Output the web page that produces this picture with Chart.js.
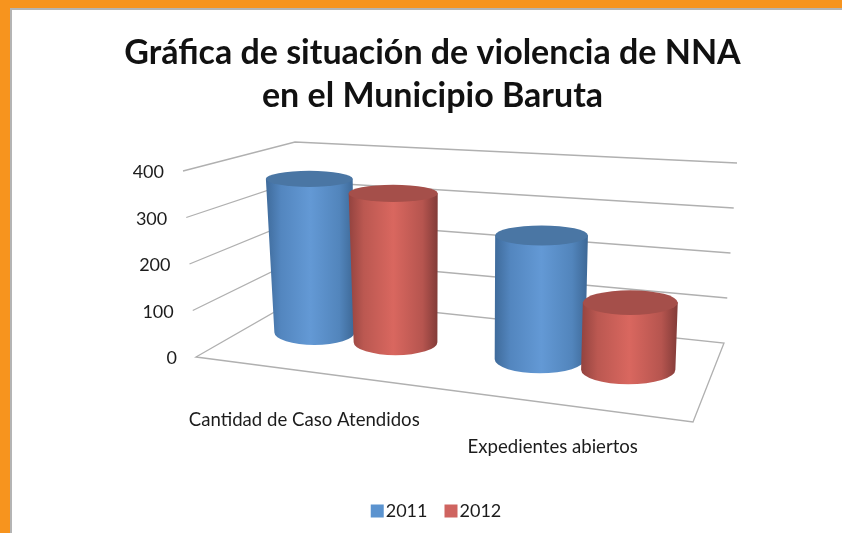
<!DOCTYPE html>
<html lang="es">
<head>
  <meta charset="UTF-8">
  <title>Gráfica de situación de violencia de NNA</title>
  <script src="https://cdn.jsdelivr.net/npm/chart.js"></script>
  <style>
    html, body { margin: 0; padding: 0; width: 842px; height: 533px; overflow: hidden; background: #f7941e; }
    #paper { position: absolute; left: 10px; top: 8px; width: 832px; height: 525px; box-sizing: border-box; background: #fff; border-left: 2px solid #b4b4b4; border-top: 2px solid #b4b4b4; }
    #chart { position: absolute; left: 0; top: 0; }
  </style>
</head>
<body>
  <div id="paper"></div>
  <canvas id="chart" width="842" height="533"></canvas>

  <script>
    const categories = ['Cantidad de Caso Atendidos', 'Expedientes abiertos'];
    const seriesNames = ['2011', '2012'];
    const seriesColors = ['#5b93cf', '#cf6460'];
    const values2011 = [355, 267];
    const values2012 = [335, 141];
    const yTicks = [0, 100, 200, 300, 400];

    const FONT = 'Lato, sans-serif';
    const TEXT = '#1c1c1c';

    // box corners in page px: floor and wall tops (f = front, b = back)
    const floor = { fl: [196, 357], fr: [693, 422], bl: [299, 298], br: [724, 343] };
    const roof = { fl: [183, 171], fr: [697, 210], bl: [295, 142], br: [737, 163] };
    const BAR_DEPTH = 0.54;  // bars stand in the middle of the floor
    const LABEL_DX = -16;
    const LABEL_DY = [47, 41];
    const LEGEND_BOX_SHIFT = 7;  // original legend keeps its swatch closer to the text

    function bilinear(q, u, v) {
      return [0, 1].map(i =>
        (1 - v) * (q.fl[i] + u * (q.fr[i] - q.fl[i])) + v * (q.bl[i] + u * (q.br[i] - q.bl[i])));
    }

    // u along categories, v into the depth, h = fraction of the value axis
    function project(u, v, h) {
      const a = bilinear(floor, u, v);
      const b = bilinear(roof, u, v);
      return { x: a[0] + h * (b[0] - a[0]), y: a[1] + h * (b[1] - a[1]) };
    }

    // perspective: spacing along the floor grows towards the viewer's right
    function warp(u) {
      return -0.009 + 0.914 * u + 0.086 * u * u;
    }

    const shades = [
      { top: '#4a76a4', stops: ['#3f6b9b', '#5386bf', '#6399d5', '#5285bc', '#3d6896'] },
      { top: '#a54f4a', stops: ['#93433f', '#bb5851', '#d9675f', '#b6554f', '#823b38'] }
    ];

    function drawCylinder(ctx, u, widthU, h, shade) {
      const bottom = project(u, BAR_DEPTH, 0);
      const top = project(u, BAR_DEPTH, h);
      const half = widthU * 229 * (0.93 + 0.25 * u);
      const rxB = half;
      const rxT = half * (1 + 0.11 * (1 - u) * h);
      const ryB = rxB * 0.31;
      const ryT = rxT * (0.31 - 0.14 * h);

      const x0 = Math.min(top.x - rxT, bottom.x - rxB);
      const x1 = Math.max(top.x + rxT, bottom.x + rxB);
      const grad = ctx.createLinearGradient(x0, 0, x1, 0);
      [0, 0.17, 0.5, 0.83, 1].forEach((p, i) => grad.addColorStop(p, shade.stops[i]));

      ctx.beginPath();
      ctx.moveTo(top.x - rxT, top.y);
      ctx.lineTo(bottom.x - rxB, bottom.y);
      ctx.ellipse(bottom.x, bottom.y, rxB, ryB, 0, Math.PI, 0, true);
      ctx.lineTo(top.x + rxT, top.y);
      ctx.closePath();
      ctx.fillStyle = grad;
      ctx.fill();

      ctx.beginPath();
      ctx.ellipse(top.x, top.y, rxT, ryT, 0, 0, Math.PI * 2);
      ctx.fillStyle = shade.top;
      ctx.fill();
    }

    const cylinders3d = {
      id: 'cylinders3d',
      // native bars are replaced, their geometry still comes from the scales
      beforeDatasetsDraw(chart) {
        const ctx = chart.ctx;
        const area = chart.chartArea;
        const yScale = chart.scales.y;
        const frac = px => (yScale.bottom - px) / (yScale.bottom - yScale.top);

        ctx.save();
        ctx.lineWidth = 1.3;
        ctx.strokeStyle = '#b0b0b0';
        yTicks.forEach(t => {
          const h = frac(yScale.getPixelForValue(t));
          const a = project(0, 0, h), b = project(0, 1, h), c = project(1, 1, h);
          ctx.beginPath();
          ctx.moveTo(a.x, a.y);
          ctx.lineTo(b.x, b.y);
          ctx.lineTo(c.x, c.y);
          if (t === 0) {
            const d = project(1, 0, 0);
            ctx.lineTo(d.x, d.y);
            ctx.closePath();
          }
          ctx.stroke();
        });

        chart.data.datasets.forEach((ds, i) => {
          chart.getDatasetMeta(i).data.forEach(bar => {
            const u = warp((bar.x - area.left) / area.width);
            drawCylinder(ctx, u, bar.width / area.width, frac(bar.y), shades[i]);
          });
        });

        ctx.fillStyle = TEXT;
        ctx.textBaseline = 'middle';
        ctx.textAlign = 'right';
        ctx.font = '18px ' + FONT;
        yTicks.forEach(t => {
          const px = yScale.getPixelForValue(t);
          ctx.fillText(String(t), project(0, 0, frac(px)).x - 19, px + 1.5);
        });
        ctx.textAlign = 'center';
        ctx.font = '18.6px ' + FONT;
        const xScale = chart.scales.x;
        categories.forEach((name, i) => {
          const u = (xScale.getPixelForTick(i) - area.left) / area.width;
          const p = project(u, 0, 0);
          ctx.fillText(name, p.x + LABEL_DX, p.y + LABEL_DY[i]);
        });
        ctx.restore();
        return false;
      },
      afterDraw(chart) {
        const ctx = chart.ctx;
        chart.legend.legendHitBoxes.forEach((hit, i) => {
          ctx.fillStyle = seriesColors[i];
          ctx.fillRect(hit.left + LEGEND_BOX_SHIFT, hit.top + (hit.height - 13) / 2, 13, 13);
        });
      }
    };

    new Chart(document.getElementById('chart'), {
      type: 'bar',
      data: {
        labels: categories,
        datasets: [
          { label: seriesNames[0], data: values2011, backgroundColor: seriesColors[0] },
          { label: seriesNames[1], data: values2012, backgroundColor: seriesColors[1] }
        ]
      },
      plugins: [cylinders3d],
      options: {
        responsive: false,
        animation: false,
        categoryPercentage: 0.74,
        barPercentage: 0.98,
        layout: { padding: { left: 23, right: 0, top: 0, bottom: 3 } },
        plugins: {
          title: {
            display: true,
            text: ['Gráfica de situación de violencia de NNA', 'en el Municipio Baruta'],
            color: '#111',
            font: { family: FONT, size: 34, weight: 'bold', lineHeight: 43 / 34 },
            padding: { top: 32, bottom: 53 }
          },
          legend: {
            position: 'bottom',
            labels: {
              boxWidth: 13,
              boxHeight: 13,
              padding: 10,
              color: TEXT,
              font: { family: FONT, size: 18 },
              // swatches are painted in afterDraw, nearer the text
              generateLabels(chart) {
                return Chart.defaults.plugins.legend.labels.generateLabels(chart).map(item => ({
                  ...item, fillStyle: 'rgba(0,0,0,0)', strokeStyle: 'rgba(0,0,0,0)', lineWidth: 0
                }));
              }
            }
          },
          tooltip: { enabled: false }
        },
        scales: {
          x: {
            grid: { display: false },
            border: { display: false },
            ticks: { display: false },
            afterFit(s) { s.height = 135; }
          },
          y: {
            min: 0,
            max: 400,
            grid: { display: false },
            border: { display: false },
            ticks: { display: false, stepSize: 100 },
            afterFit(s) { s.width = 0; }
          }
        }
      }
    });
  </script>
</body>
</html>
